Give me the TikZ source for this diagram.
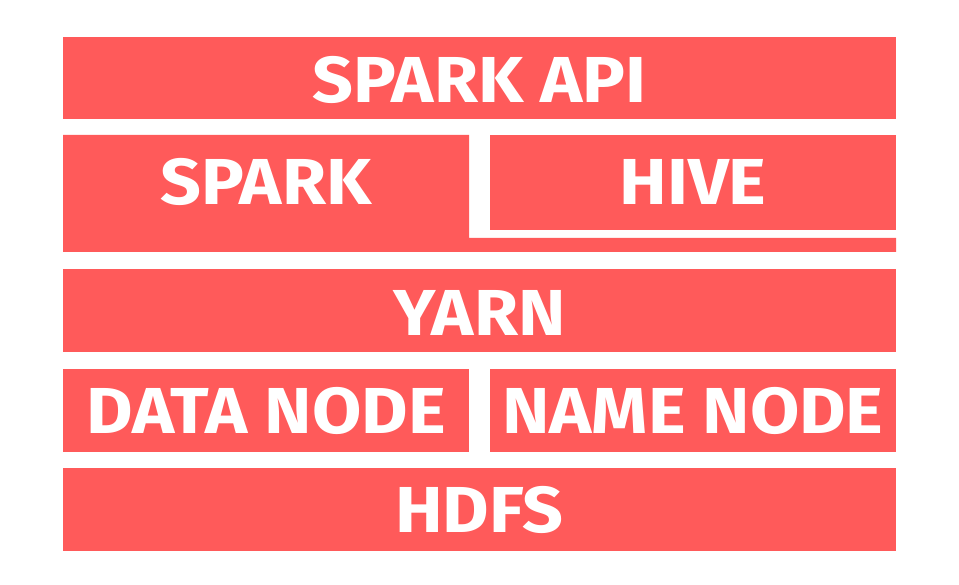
\documentclass[tikz,border=0pt]{standalone}
\usepackage{fontspec}
\setmainfont{Fira Sans}[FakeStretch=1.1]
\definecolor{blockred}{RGB}{255,90,90}
\tikzset{
  block/.style={fill=blockred, draw=none},
  lbl/.style={text=white, font=\fontsize{65}{65}\selectfont\bfseries, inner sep=0pt, anchor=center}
}
\begin{document}
\begin{tikzpicture}[x=1pt,y=-1pt]
\useasboundingbox (0,0) rectangle (959,585);
% SPARK API
\fill[block] (63,37) rectangle (896,119);
\node[lbl] (api) at (479.5,79.5) {SPARK API};
% SPARK (L-shape)
\fill[block] (63,135) -- (469,135) -- (469,238) -- (896,238) -- (896,252) -- (63,252) -- cycle;
\node[lbl] (spark) at (266,182) {SPARK};
% HIVE
\fill[block] (490,135) rectangle (896,230);
\node[lbl] (hive) at (693,182) {HIVE};
% YARN
\fill[block] (63,269) rectangle (896,352.5);
\node[lbl] (yarn) at (479.5,312.5) {YARN};
% DATA NODE
\fill[block] (63,369) rectangle (469,451.5);
\node[lbl] (data) at (266,410.5) {DATA NODE};
% NAME NODE
\fill[block] (490,369) rectangle (896,451.5);
\node[lbl] (name) at (693,410.5) {NAME NODE};
% HDFS
\fill[block] (63,468) rectangle (896,550.5);
\node[lbl] (hdfs) at (479.5,510) {HDFS};
\end{tikzpicture}
\end{document}
